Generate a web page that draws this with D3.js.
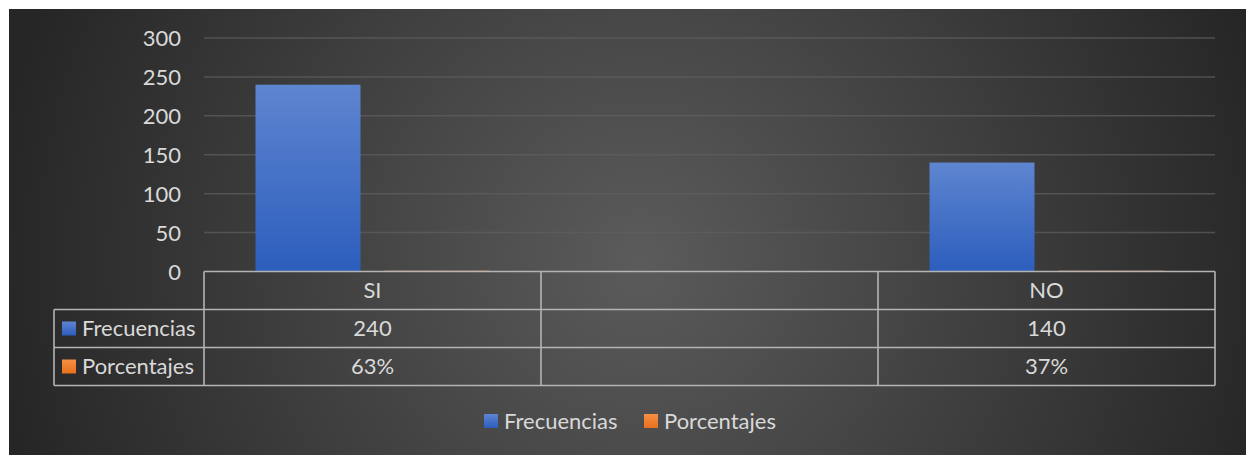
<!DOCTYPE html>
<html><head><meta charset="utf-8">
<script src="https://cdn.jsdelivr.net/npm/d3@7"></script>
<style>html,body{margin:0;padding:0;background:#fff;}svg{display:block;}</style>
</head><body>
<script>
const categories = ["SI", "", "NO"];
const seriesNames = ["Frecuencias", "Porcentajes"];
const frecuencias = [240, null, 140];
const porcentajes = [0.63, null, 0.37];
const porcentajesLabels = ["63%", "", "37%"];
const yTicks = [0, 50, 100, 150, 200, 250, 300];

(function(){
const W = 1246, H = 455;
const svg = d3.select("body").append("svg").attr("width", W).attr("height", H);
const defs = svg.append("defs");
const bg = defs.append("radialGradient").attr("id","bg").attr("gradientUnits","userSpaceOnUse")
  .attr("cx", 640).attr("cy", 260).attr("r", 650);
bg.append("stop").attr("offset","0%").attr("stop-color","#5b5b5b");
bg.append("stop").attr("offset","100%").attr("stop-color","#262626");
const gb = defs.append("linearGradient").attr("id","gb").attr("x1",0).attr("y1",0).attr("x2",0).attr("y2",1);
gb.append("stop").attr("offset","0%").attr("stop-color","#5e85d0");
gb.append("stop").attr("offset","100%").attr("stop-color","#2c5ebd");
const go = defs.append("linearGradient").attr("id","go").attr("x1",0).attr("y1",0).attr("x2",0).attr("y2",1);
go.append("stop").attr("offset","0%").attr("stop-color","#f79045");
go.append("stop").attr("offset","100%").attr("stop-color","#e8701e");
const fills = ["url(#gb)", "url(#go)"];

svg.append("rect").attr("x",9).attr("y",9).attr("width",W-9).attr("height",H-9).attr("fill","url(#bg)");

const font = "Lato, 'Open Sans', sans-serif";
const fs = 22;
const txt = "#d9d9d9";
const pLeft = 204, pRight = 1215, pTop = 38, base = 271.5;
const x = d3.scaleBand().domain(d3.range(categories.length)).range([pLeft, pRight]);
const y = d3.scaleLinear().domain([0, 300]).range([base, pTop]);
const inner = d3.scaleBand().domain(d3.range(2)).range([51.5, x.bandwidth()-51.5]).paddingInner(0.186);

// gridlines
svg.append("g").selectAll("line").data(yTicks.filter(d=>d>0)).join("line")
  .attr("x1", pLeft).attr("x2", pRight).attr("y1", d=>y(d)).attr("y2", d=>y(d))
  .attr("stroke","#5f5f5f").attr("stroke-opacity",0.7).attr("stroke-width",1.5);

// y axis labels
const yAxis = d3.axisLeft(y).tickValues(yTicks).tickSize(0).tickPadding(0);
const ya = svg.append("g").attr("transform", `translate(${181},0)`).call(yAxis);
ya.select(".domain").remove();
ya.selectAll("text").attr("font-family", font).attr("font-size", fs).attr("fill", txt).attr("dy","0.35em");

// bars
const series = [frecuencias, porcentajes];
series.forEach((vals, si) => {
  svg.append("g").selectAll("rect").data(vals.map((v,i)=>({v,i})).filter(d=>d.v!=null)).join("rect")
    .attr("x", d => x(d.i) + inner(si))
    .attr("width", inner.bandwidth())
    .attr("y", d => Math.min(y(d.v), base - 1))
    .attr("height", d => Math.max(base - y(d.v), 1))
    .attr("fill", fills[si]).attr("opacity", si===1?0.6:1);
});

// data table
const rowH = 38, tTop = base, tLeft = 54;
const lineC = "#b4b4b4";
const tg = svg.append("g").attr("stroke", lineC).attr("stroke-width", 1.6).attr("fill","none");
tg.append("line").attr("x1", pLeft).attr("x2", pRight).attr("y1", tTop).attr("y2", tTop);
[1,2,3].forEach(r => tg.append("line").attr("x1", tLeft).attr("x2", pRight).attr("y1", tTop+r*rowH).attr("y2", tTop+r*rowH));
tg.append("line").attr("x1", tLeft).attr("x2", tLeft).attr("y1", tTop+rowH).attr("y2", tTop+3*rowH);
categories.forEach((c,i) => tg.append("line").attr("x1", x(i)).attr("x2", x(i)).attr("y1", tTop).attr("y2", tTop+3*rowH));
tg.append("line").attr("x1", pRight).attr("x2", pRight).attr("y1", tTop).attr("y2", tTop+3*rowH);

const cellText = (xx, yy, t, anchor) => svg.append("text").attr("x", xx).attr("y", yy)
  .attr("text-anchor", anchor).attr("dy","0.35em").attr("font-family", font).attr("font-size", fs).attr("fill", txt).text(t);
categories.forEach((c,i) => {
  const cx = x(i) + x.bandwidth()/2;
  cellText(cx, tTop + rowH*0.5, c, "middle");
  cellText(cx, tTop + rowH*1.5, frecuencias[i]==null?"":String(frecuencias[i]), "middle");
  cellText(cx, tTop + rowH*2.5, porcentajesLabels[i], "middle");
});
seriesNames.forEach((n, si) => {
  const cy = tTop + rowH*(1.5+si);
  svg.append("rect").attr("x", 62).attr("y", cy-7).attr("width", 14).attr("height", 14).attr("fill", fills[si]);
  cellText(82, cy, n, "start");
});

// legend
const legY = 421;
const legX = [484, 644];
seriesNames.forEach((n, si) => {
  svg.append("rect").attr("x", legX[si]).attr("y", legY-7).attr("width", 14).attr("height", 14).attr("fill", fills[si]);
  cellText(legX[si]+20, legY, n, "start");
});
})();
</script>
</body></html>
